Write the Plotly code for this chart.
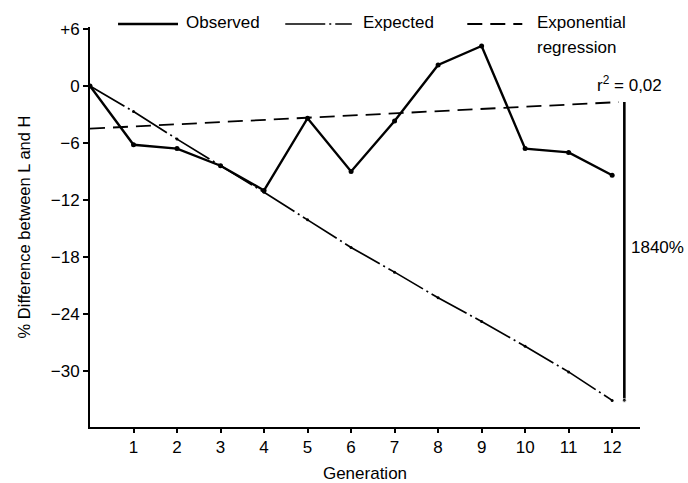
import plotly.graph_objects as go

# Generations 0..12
generations = list(range(13))

# % difference between L and H lines per generation
observed = [0, -6.2, -6.6, -8.4, -11.0, -3.4, -9.0, -3.7, 2.2, 4.2, -6.6, -7.0, -9.4]
expected = [0, -2.7, -5.6, -8.4, -11.2, -14.1, -17.0, -19.6, -22.3, -24.8, -27.4, -30.1, -33.1]

# Fitted exponential regression (end points of the drawn curve)
regression_x = [0, 12.15]
regression_y = [-4.5, -1.7]

# Bracket marking the gap between regression and expected at the last generation
bracket_x = 12.28
bracket_label = "1840%"
r2_label = "r<sup>2</sup> = 0,02"

y_tickvals = [6, 0, -6, -12, -18, -24, -30]
y_ticktext = ["+6", "0", "\u22126", "\u221212", "\u221218", "\u221224", "\u221230"]
x_tickvals = list(range(1, 13))

legend_labels = ["Observed", "Expected", "Exponential", "regression"]

FONT = "Liberation Sans, Arial, sans-serif"
FS = 17

OBS_LINE = dict(color="black", width=2.4)
EXP_LINE = dict(color="black", width=1.7, dash="40px,4px,2px,4px")
REG_LINE = dict(color="black", width=1.8, dash="15px,8px")

fig = go.Figure()

fig.add_trace(go.Scatter(
    x=generations, y=observed, name="Observed", mode="lines+markers",
    line=OBS_LINE, marker=dict(color="black", size=5),
))
fig.add_trace(go.Scatter(
    x=generations, y=expected, name="Expected", mode="lines+markers",
    line=EXP_LINE, marker=dict(color="black", size=3),
))
fig.add_trace(go.Scatter(
    x=regression_x, y=regression_y, name="Exponential regression", mode="lines",
    line=REG_LINE,
))
fig.add_trace(go.Scatter(
    x=[bracket_x, bracket_x], y=[regression_y[-1], expected[-1]],
    mode="lines+markers", line=dict(color="black", width=2.6),
    marker=dict(color="black", size=[0, 4]),
))

# Annotations beside the bracket
fig.add_annotation(
    x=bracket_x, y=-17.0, text=bracket_label, showarrow=False,
    xanchor="left", xshift=5, font=dict(family=FONT, size=FS, color="black"),
)
fig.add_annotation(
    x=bracket_x, y=regression_y[-1], text=r2_label, showarrow=False,
    xanchor="right", yanchor="bottom", xshift=40, yshift=5,
    font=dict(family=FONT, size=FS, color="black"),
)

# Legend row across the top: line sample followed by its label
legend_rows = [
    (0.051, 0.160, OBS_LINE, legend_labels[0], 0.171),
    (0.355, 0.476, EXP_LINE, legend_labels[1], 0.493),
    (0.686, 0.786, REG_LINE, legend_labels[2], 0.809),
]
for x0, x1, style, label, tx in legend_rows:
    fig.add_shape(type="line", xref="paper", yref="paper",
                  x0=x0, x1=x1, y0=1.0075, y1=1.0075, line=style)
    fig.add_annotation(xref="paper", yref="paper", x=tx, y=1.0125,
                       text=label, showarrow=False, xanchor="left",
                       yanchor="middle",
                       font=dict(family=FONT, size=FS, color="black"))
fig.add_annotation(xref="paper", yref="paper", x=0.809, y=0.95,
                   text=legend_labels[3], showarrow=False, xanchor="left",
                   yanchor="middle",
                   font=dict(family=FONT, size=FS, color="black"))

fig.update_layout(
    width=688, height=483,
    margin=dict(l=90, r=48, t=27, b=56),
    paper_bgcolor="white", plot_bgcolor="white",
    font=dict(family=FONT, size=FS, color="black"),
    showlegend=False,
)

fig.update_xaxes(
    range=[0, 12.64], tickvals=x_tickvals, ticks="outside", ticklen=4,
    tickwidth=1.5, tickcolor="black", showline=True, linecolor="black",
    linewidth=2, showgrid=False, zeroline=False, automargin=False,
    title=dict(text="Generation", standoff=14,
               font=dict(family=FONT, size=17, color="black")),
)
fig.update_yaxes(
    range=[-35.9, 6.2], tickvals=y_tickvals, ticktext=y_ticktext,
    ticks="outside", ticklen=5, tickwidth=1.5, tickcolor="black",
    showline=True, linecolor="black", linewidth=2, showgrid=False,
    zeroline=False, automargin=False,
    title=dict(text="% Difference between L and H", standoff=16,
               font=dict(family=FONT, size=16.5, color="black")),
)

fig.write_html("out.html")
